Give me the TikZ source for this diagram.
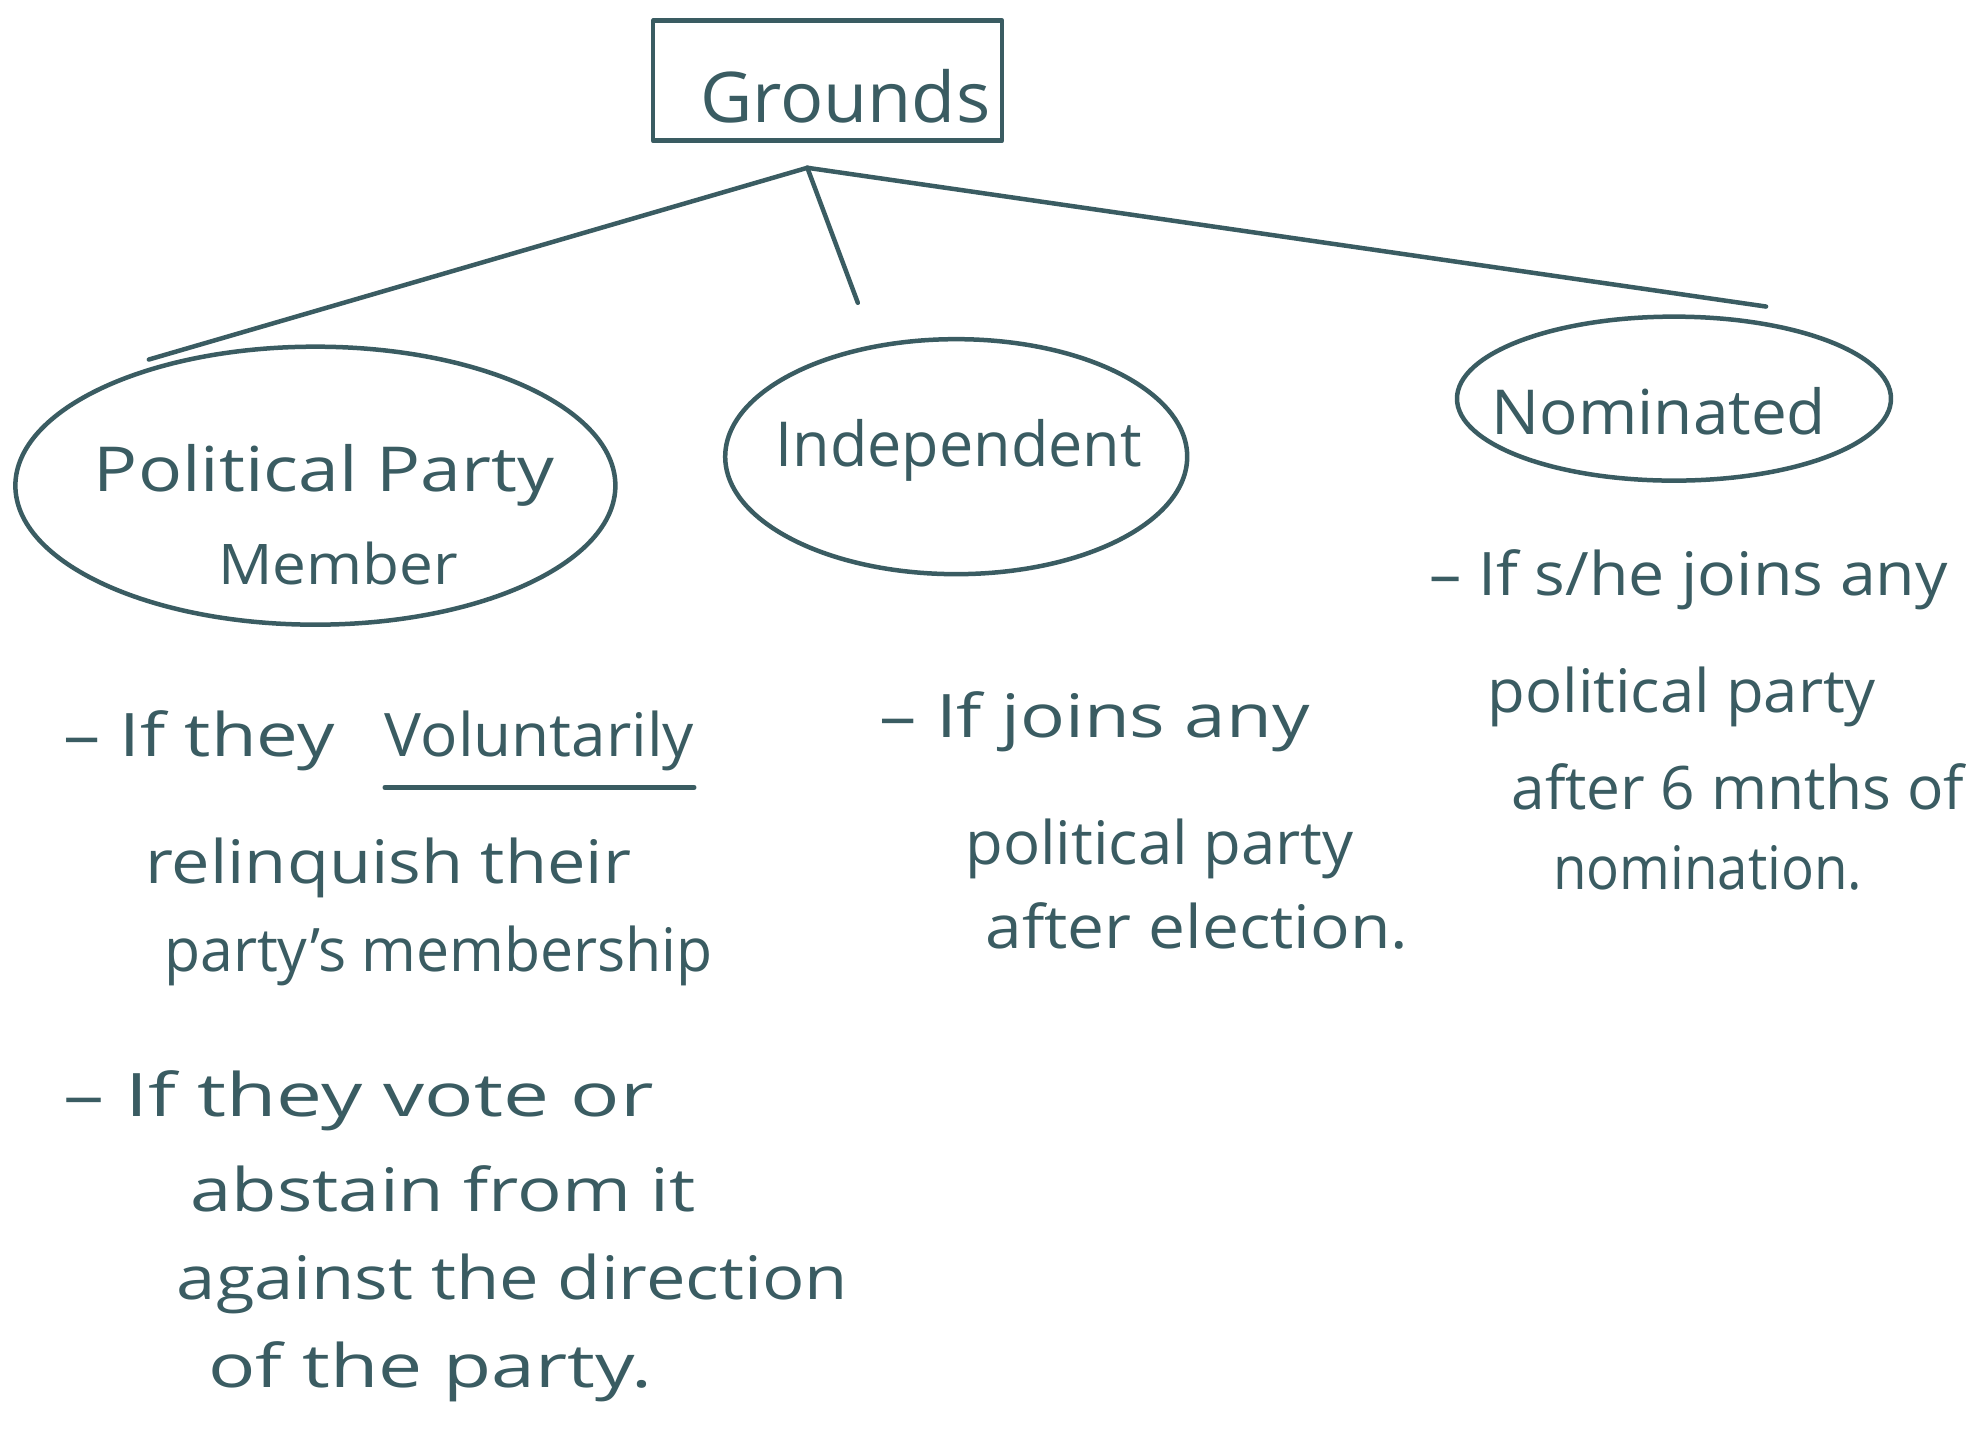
\documentclass[tikz,border=0pt]{standalone}
\usepackage{fontspec}
\usepackage{graphicx}
\setmainfont{Open Sans}
\usetikzlibrary{shapes.geometric}
\definecolor{ink}{HTML}{3A5C62}
\newcommand\fitto[2]{\resizebox{1.2615\dimexpr#1pt\relax}{\height}{#2}}
\begin{document}
\begin{tikzpicture}[x=1.2615pt,y=-1.2615pt,
  stroke/.style={draw=ink,line width=4.5pt,line cap=round,line join=round},
  bubble/.style={stroke,ellipse,inner sep=0pt},
  title/.style={text=ink,font=\fontsize{62}{70}\selectfont,inner sep=0pt},
  hand/.style={text=ink,font=\fontsize{60}{66}\selectfont,inner sep=0pt,anchor=base west}]
\fill[white] (0,0) rectangle (1568,1145);
\useasboundingbox (0,0) rectangle (1568,1145);
% root
\node[stroke,rectangle,minimum width=349pt,minimum height=120pt] (root) at (656,64) {};
\node[title,font=\fontsize{70}{76}\selectfont] (roott) at (670,76) {\fitto{230}{Grounds}};
% branches
\coordinate (apex) at (640,133);
\coordinate (lend) at (118,285);
\coordinate (mend) at (680,240);
\coordinate (rend) at (1400,243);
\draw[stroke] (apex) -- (lend);
\draw[stroke] (apex) -- (mend);
\draw[stroke] (apex) -- (rend);
% ellipses
\node[bubble,minimum width=600pt,minimum height=278pt] (ppm) at (250,385) {};
\node[bubble,minimum width=462pt,minimum height=235pt] (ind) at (758,362) {};
\node[bubble,minimum width=434pt,minimum height=164pt] (nom) at (1327,316) {};
\node[title] (ppmt1) at (257,377) {\fitto{365}{Political Party}};
\node[title,font=\fontsize{56}{60}\selectfont] (ppmt2) at (268,447) {\fitto{190}{Member}};
\node[title] (indt) at (760,357) {\fitto{290}{Independent}};
\node[title] (nomt) at (1315,326) {\fitto{265}{Nominated}};
% left notes
\node[hand] (l1) at (50,600) {\fitto{215}{– If they}};
\node[hand] (l1v) at (305,600) {\fitto{245}{Voluntarily}};
\draw[stroke] ([yshift=-16pt]l1v.south west) -- ([yshift=-16pt]l1v.south east);
\node[hand] (l2) at (115,700) {\fitto{385}{relinquish their}};
\node[hand] (l3) at (130,770) {\fitto{435}{party's membership}};
\node[hand] (l4) at (50,885) {\fitto{468}{– If they vote or}};
\node[hand] (l5) at (151,960) {\fitto{400}{abstain from it}};
\node[hand] (l6) at (140,1030) {\fitto{532}{against the direction}};
\node[hand] (l7) at (165,1100) {\fitto{352}{of the party.}};
% middle notes
\node[hand] (m1) at (697,585) {\fitto{341}{– If joins any}};
\node[hand] (m2) at (765,685) {\fitto{308}{political party}};
\node[hand] (m3) at (781,752) {\fitto{335}{after election.}};
% right notes
\node[hand] (r1) at (1133,472) {\fitto{411}{– If s/he joins any}};
\node[hand] (r2) at (1179,565) {\fitto{308}{political party}};
\node[hand] (r3) at (1198,642) {\fitto{359}{after 6 mnths of}};
\node[hand] (r4) at (1231,705) {\fitto{245}{nomination.}};
\end{tikzpicture}
\end{document}
